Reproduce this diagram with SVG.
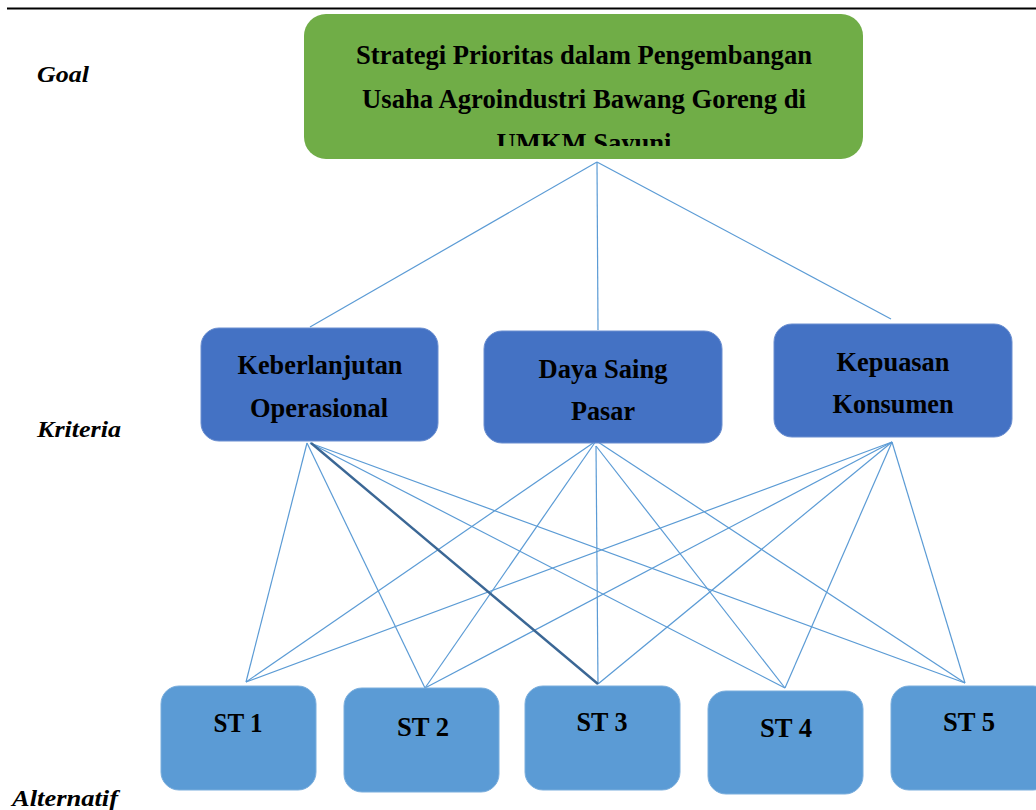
<svg xmlns="http://www.w3.org/2000/svg" width="1036" height="810" viewBox="0 0 1036 810">
<defs>
<style>
.t{font-family:"Liberation Serif","Times New Roman",serif;font-weight:bold;fill:#000;text-anchor:middle}
.lab{font-family:"Liberation Serif","Times New Roman",serif;font-weight:bold;font-style:italic;fill:#000}
.c{stroke:#5B9BD5;stroke-width:1.2;fill:none}
.crit{fill:#4472C4;stroke:#6A8ED0;stroke-width:1}
.alt{fill:#5B9BD5;stroke:#7AAEDD;stroke-width:1}
</style>
<clipPath id="gclip"><rect x="304" y="14" width="559" height="132"/></clipPath>
</defs>
<rect width="1036" height="810" fill="#fff"/>
<line x1="7" y1="8.5" x2="1036" y2="8.5" stroke="#000" stroke-width="2"/>
<g id="labels">
<text class="lab" x="37" y="82" font-size="23" textLength="52" lengthAdjust="spacingAndGlyphs">Goal</text>
<text class="lab" x="37" y="437" font-size="23" textLength="84" lengthAdjust="spacingAndGlyphs">Kriteria</text>
<text class="lab" x="12" y="806" font-size="23" textLength="106" lengthAdjust="spacingAndGlyphs">Alternatif</text>
</g>
<g id="connectors">
<line class="c" x1="597" y1="162" x2="310" y2="327"/>
<line class="c" x1="597" y1="162" x2="598" y2="330"/>
<line class="c" x1="597" y1="162" x2="891" y2="319"/>
<line class="c" x1="307" y1="443" x2="246" y2="682"/>
<line class="c" x1="307" y1="443" x2="425" y2="688"/>
<line class="c" x1="310" y1="443" x2="785" y2="688"/>
<line class="c" x1="310" y1="443" x2="965" y2="683"/>
<line class="c" x1="596" y1="441" x2="246" y2="682"/>
<line class="c" x1="596" y1="441" x2="425" y2="688"/>
<line class="c" x1="596" y1="446" x2="598" y2="684"/>
<line class="c" x1="596" y1="446" x2="785" y2="688"/>
<line class="c" x1="598" y1="442" x2="965" y2="683"/>
<line class="c" x1="892" y1="442" x2="246" y2="682"/>
<line class="c" x1="892" y1="442" x2="425" y2="688"/>
<line class="c" x1="892" y1="442" x2="598" y2="684"/>
<line class="c" x1="892" y1="442" x2="785" y2="688"/>
<line class="c" x1="892" y1="442" x2="965" y2="683"/>
<line x1="311" y1="443" x2="598" y2="684" stroke="#3B6795" stroke-width="2.4"/>
</g>
<g id="goal">
<rect x="304" y="14" width="559" height="145" rx="22" fill="#70AD47"/>
<g clip-path="url(#gclip)">
<text class="t" x="584" y="64" font-size="27" textLength="456" lengthAdjust="spacingAndGlyphs">Strategi Prioritas dalam Pengembangan</text>
<text class="t" x="584" y="108" font-size="27" textLength="444" lengthAdjust="spacingAndGlyphs">Usaha Agroindustri Bawang Goreng di</text>
<text class="t" x="584" y="152" font-size="27" textLength="175" lengthAdjust="spacingAndGlyphs">UMKM Sayuni</text>
</g>
</g>
<g id="k1">
<rect class="crit" x="201" y="328" width="237" height="113" rx="18"/>
<text class="t" x="320" y="374" font-size="27" textLength="165" lengthAdjust="spacingAndGlyphs">Keberlanjutan</text>
<text class="t" x="319" y="417" font-size="27" textLength="138" lengthAdjust="spacingAndGlyphs">Operasional</text>
</g>
<g id="k2">
<rect class="crit" x="484" y="331" width="238" height="112" rx="18"/>
<text class="t" x="603" y="378" font-size="27" textLength="129" lengthAdjust="spacingAndGlyphs">Daya Saing</text>
<text class="t" x="603" y="420" font-size="27" textLength="64" lengthAdjust="spacingAndGlyphs">Pasar</text>
</g>
<g id="k3">
<rect class="crit" x="774" y="324" width="238" height="113" rx="18"/>
<text class="t" x="893" y="371" font-size="27" textLength="113" lengthAdjust="spacingAndGlyphs">Kepuasan</text>
<text class="t" x="893" y="413" font-size="27" textLength="121" lengthAdjust="spacingAndGlyphs">Konsumen</text>
</g>
<g id="st1">
<rect class="alt" x="161" y="686" width="155" height="104" rx="18"/>
<text class="t" x="238" y="732" font-size="27" textLength="49" lengthAdjust="spacingAndGlyphs">ST 1</text>
</g>
<g id="st2">
<rect class="alt" x="344" y="688" width="155" height="104" rx="18"/>
<text class="t" x="423" y="736" font-size="27" textLength="52" lengthAdjust="spacingAndGlyphs">ST 2</text>
</g>
<g id="st3">
<rect class="alt" x="525" y="686" width="155" height="104" rx="18"/>
<text class="t" x="602" y="731" font-size="27" textLength="51" lengthAdjust="spacingAndGlyphs">ST 3</text>
</g>
<g id="st4">
<rect class="alt" x="708" y="691" width="155" height="103" rx="18"/>
<text class="t" x="786" y="737" font-size="27" textLength="52" lengthAdjust="spacingAndGlyphs">ST 4</text>
</g>
<g id="st5">
<rect class="alt" x="891" y="686" width="160" height="104" rx="18"/>
<text class="t" x="969" y="731" font-size="27" textLength="52" lengthAdjust="spacingAndGlyphs">ST 5</text>
</g>
</svg>
